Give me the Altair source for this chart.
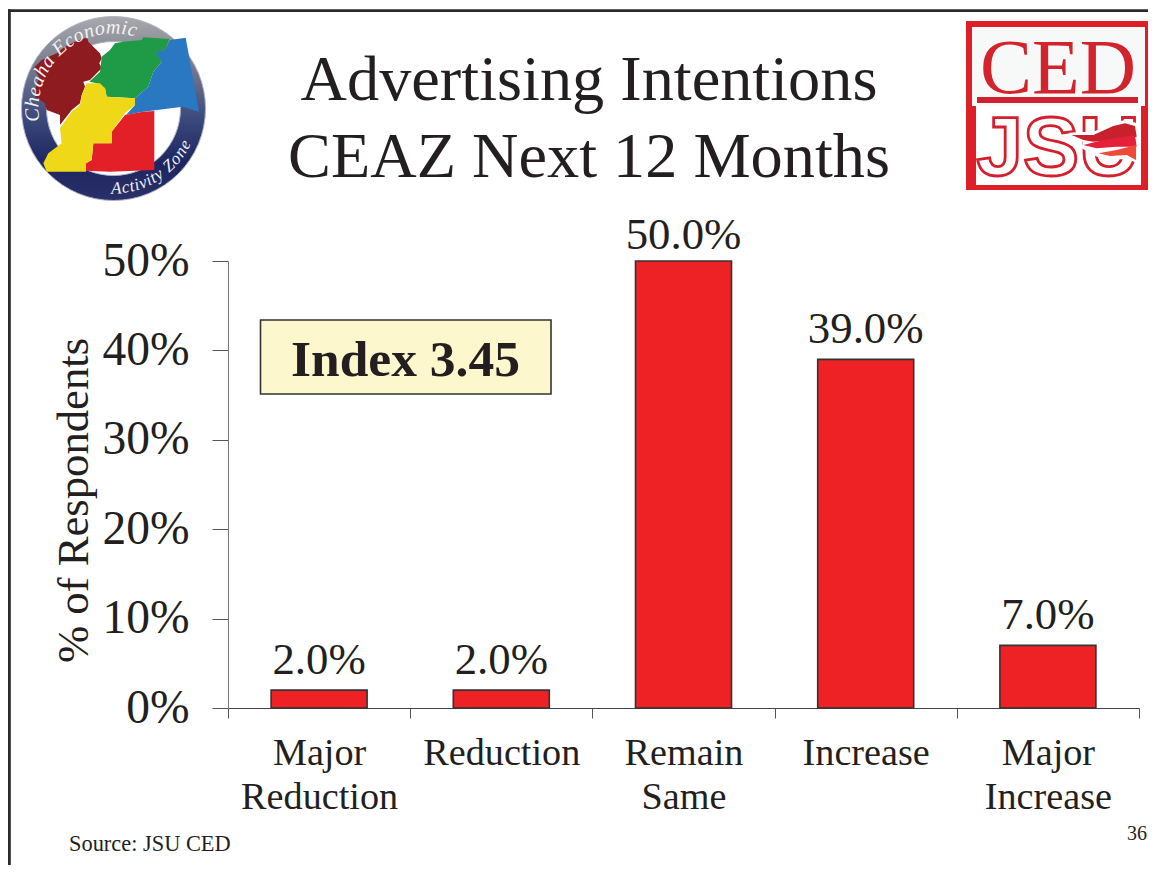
import altair as alt
import pandas as pd
import math

categories = ["Major Reduction", "Reduction", "Remain Same", "Increase", "Major Increase"]
shares = [0.02, 0.02, 0.50, 0.39, 0.07]
title_lines = ["Advertising Intentions", "CEAZ Next 12 Months"]
y_title = "% of Respondents"
note_index = "Index 3.45"
note_source = "Source: JSU CED"
page_number = "36"

SERIF = "Liberation Serif"
INK = "#231f20"
PX0, PY0 = 228, 261   # page position of the plot origin


def px(v):
    return v - PX0


def py(v):
    return v - PY0


one = alt.Data(values=[{"a": 1}])


def poly(points, ox=0, oy=0, k=1.0):
    s = "M" + " L".join(f"{ox + x * k:.1f} {oy + y * k:.1f}" for x, y in points) + " Z"
    return s


def shape(path, color):
    return alt.Chart(one).mark_point(
        shape=path, size=4, filled=True, fill=color, opacity=1, strokeWidth=0
    ).encode(x=alt.value(-PX0), y=alt.value(-PY0))


def label(text, x, y, size, color=INK, align="left", **kw):
    return alt.Chart(one).mark_text(
        text=text, font=SERIF, fontSize=size, color=color, align=align, baseline="alphabetic", **kw
    ).encode(x=alt.value(px(x)), y=alt.value(py(y)))


def hbar(x1, x2, y1, y2, **kw):
    return alt.Chart(one).mark_rect(**kw).encode(
        x=alt.value(px(x1)), x2=alt.value(px(x2)), y=alt.value(py(y1)), y2=alt.value(py(y2))
    )


# ---- main chart -------------------------------------------------------------
df = pd.DataFrame({"category": categories, "share": shares})

x = alt.X(
    "category:N", sort=categories, title=None,
    scale=alt.Scale(paddingInner=0, paddingOuter=0),
    axis=alt.Axis(
        labelExpr="split(datum.label, ' ')", labelAngle=0, labelFont=SERIF, labelFontSize=38.2,
        labelColor=INK, labelLineHeight=44, labelPadding=16, labelLimit=500, tickBand="extent",
        tickSize=10, tickColor="#555555", domainColor="#444444", ticks=True, grid=False,
        labelBaseline="top",
    ),
)
y = alt.Y(
    "share:Q", title=y_title, scale=alt.Scale(domain=[0, 0.5]),
    axis=alt.Axis(
        values=[0, 0.1, 0.2, 0.3, 0.4, 0.5], format=".0%", labelFont=SERIF, labelFontSize=47.5,
        labelColor=INK, labelPadding=23, tickSize=16, tickColor="#555555", domainColor="#777777",
        grid=False, titleFont=SERIF, titleFontSize=44.7, titleFontWeight="normal", titleColor=INK,
        titleX=-132, titleY=239, titleAnchor="middle",
    ),
)
bars = alt.Chart(df).mark_bar(color="#ee2224", stroke="#333333", strokeWidth=1.6, size=96).encode(x=x, y=y)


def value_labels(test, dy):
    return alt.Chart(df).transform_filter(test).mark_text(
        font=SERIF, fontSize=44.8, color=INK, baseline="alphabetic", dy=dy
    ).encode(
        x=alt.X("category:N", sort=categories), y=alt.Y("share:Q"),
        text=alt.Text("share:Q", format=".1%"),
    )


values_low = value_labels("datum.share < 0.5", -16)
values_top = value_labels("datum.share >= 0.5", -12)

# ---- page furniture ---------------------------------------------------------
frame_top = hbar(8, 1156, 9.3, 12, color="#2b2b2b")
frame_left = hbar(8, 10.8, 9.3, 873, color="#2b2b2b")

title_1 = label(title_lines[0], 589, 100, 64.3, align="center")
title_2 = label(title_lines[1], 589, 177, 64.3, align="center")

index_box = hbar(260.5, 551, 320, 394, fill="#fcf7cd", stroke="#333333", strokeWidth=1.6)
index_text = label(note_index, 405.5, 376, 51.5, align="center", fontWeight="bold")
source = label(note_source, 69, 851, 22.4)
page = label(page_number, 1127, 840, 20)

# ---- left logo --------------------------------------------------------------
ring_fill = alt.Gradient(
    gradient="linear", x1=0, y1=0, x2=0, y2=1,
    stops=[
        alt.GradientStop(offset=0, color="#a9a9ad"),
        alt.GradientStop(offset=0.25, color="#7b7f8e"),
        alt.GradientStop(offset=0.55, color="#3c4a7c"),
        alt.GradientStop(offset=0.8, color="#1d2560"),
        alt.GradientStop(offset=1, color="#2a3068"),
    ],
)
CX, CY = 113.5, 108.5
ring = alt.Chart(one).mark_arc(
    radius=92, radius2=67, theta=0, theta2=6.2832, fill=ring_fill, stroke="#aeb2c4", strokeWidth=1
).encode(x=alt.value(px(CX)), y=alt.value(py(CY)))

dark_red = [(262,112),(265,125),(280,140),(300,160),(305,175),(298,190),(305,205),(270,240),(250,245),
            (255,260),(245,285),(240,310),(215,330),(180,375),(180,345),(140,330),(135,310),(105,290),
            (108,260),(118,230),(100,205),(125,180),(170,160),(195,140),(225,125)]
green = [(268,245),(300,215),(305,170),(330,150),(345,130),(370,125),(425,120),(430,112),(508,117),
         (495,150),(468,155),(485,185),(460,215),(445,260),(405,295),(320,290),(315,265),(290,250)]
blue = [(510,120),(557,113),(597,335),(548,320),(430,335),(378,345),(405,315),(405,295),(445,260),
        (460,215),(485,185),(468,155),(495,150)]
yellow = [(260,250),(300,250),(315,265),(320,290),(405,295),(405,315),(375,340),(335,395),(335,430),
          (280,430),(275,480),(258,490),(258,515),(140,515),(130,490),(145,460),(185,430),(180,385),
          (215,335),(240,315),(245,285)]
red = [(375,345),(430,335),(463,333),(463,510),(330,515),(258,512),(258,490),(275,480),(280,430),
       (335,430),(335,395)]
k = 1 / 3
counties = [
    shape(poly(dark_red, k=k), "#8e1b20"),
    shape(poly(green, k=k), "#1f9a46"),
    shape(poly(blue, k=k), "#2a78c2"),
    shape(poly(red, k=k), "#e32028"),
    shape(poly(yellow, k=k), "#efd817"),
]

ADV = {"C": .667, "h": .5, "e": .444, "a": .5, " ": .25, "E": .611, "c": .444, "o": .5, "n": .5, "m": .722,
       "i": .278, "A": .611, "t": .278, "v": .444, "y": .444, "Z": .556}


def arc_text(text, start_deg, end_deg, radius, size, top):
    """One rotated letter per row, spread along the ring of the logo."""
    total = sum(ADV[c] for c in text)
    rows, run = [], 0.0
    for c in text:
        mid = (run + ADV[c] / 2) / total
        run += ADV[c]
        th = start_deg + (end_deg - start_deg) * mid
        rad = math.radians(th)
        rows.append({
            "c": c, "x": px(CX + radius * math.sin(rad)), "y": py(CY - radius * math.cos(rad)),
            "a": (th if top else th - 180) % 360,
        })
    return alt.Chart(alt.Data(values=rows)).mark_text(
        font=SERIF, fontSize=size, fontStyle="italic", color="#f2f2f4", baseline="middle"
    ).encode(
        x=alt.X("x:Q", scale=None, axis=None), y=alt.Y("y:Q", scale=None, axis=None),
        angle=alt.Angle("a:Q", scale=None), text="c:N",
    )


ring_top = arc_text("Cheaha Economic", -100, 17, 81, 20, True)
ring_bottom = arc_text("Activity Zone", 182, 114, 80, 17, False)

# ---- right logo -------------------------------------------------------------
ced_outer = hbar(966, 1151, 21, 190, color="#de1f28")
ced_inner_top = hbar(972, 1145, 27, 106, color="#f7f8f8")
ced_inner_bot = hbar(976, 1141, 106, 185, color="#ffffff")
ced_text = label("CED", 1058, 93, 78, color="#d3232c", align="center")
ced_bar = hbar(977, 1138, 97, 103, color="#cf2230")
jsu_text = alt.Chart(one).mark_text(
    text="JSU", font="Liberation Sans", fontSize=84, fontWeight="bold", fill="#ffffff", stroke="#d3202c",
    strokeWidth=2.8, align="center", baseline="alphabetic",
).encode(x=alt.value(px(1058)), y=alt.value(py(175)))

OX = 950
flame_white = [(355,398),(430,395),(490,368),(525,360),(562,370),(566,490),(530,478),(480,478),(440,470),
               (395,445),(400,425)]
flame_a = [(365,405),(430,405),(490,378),(525,370),(555,378),(560,410),(490,420),(430,425),(400,420)]
flame_b = [(400,435),(460,420),(555,405),(560,440),(500,440),(440,445)]
flame_c = [(445,460),(500,450),(558,435),(558,480),(530,465),(480,468)]
flames = [
    shape(poly(flame_white, ox=OX, k=k), "#ffffff"),
    shape(poly(flame_a, ox=OX, k=k), "#c8202c"),
    shape(poly(flame_b, ox=OX, k=k), "#e5213a"),
    shape(poly(flame_c, ox=OX, k=k), "#ef4a36"),
]

chart = alt.layer(
    frame_top, frame_left,
    ring, *counties, ring_top, ring_bottom,
    ced_outer, ced_inner_top, ced_inner_bot, ced_text, ced_bar, jsu_text, *flames,
    title_1, title_2,
    index_box, index_text, bars, values_low, values_top, source, page,
).resolve_scale(x="shared", y="shared").properties(
    width=911,
    height=447,
    autosize=alt.AutoSizeParams(type="none"),
    padding={"left": 220, "top": 253, "right": 9, "bottom": 157},
).configure_view(stroke=None)

chart.save("out.html", embed_options={"renderer": "svg", "actions": False})
